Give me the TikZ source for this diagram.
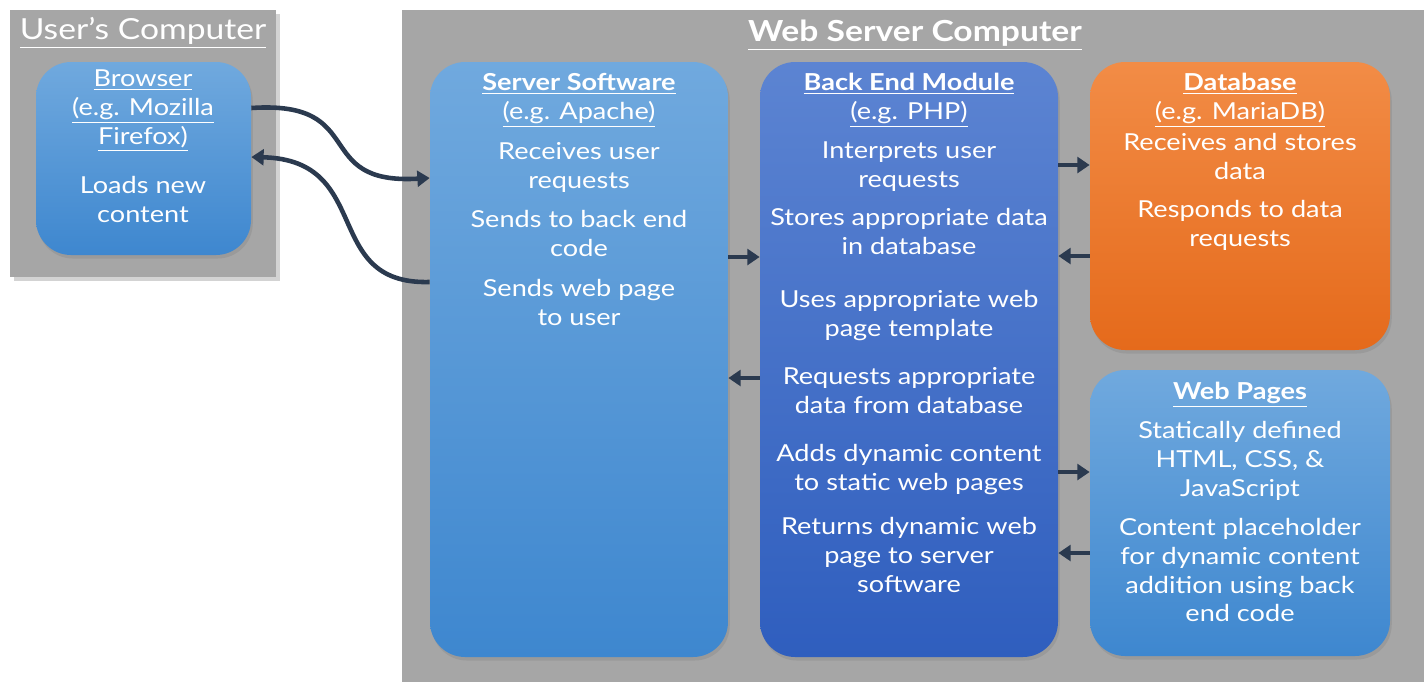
\documentclass[tikz,border=0pt]{standalone}
\usepackage{fontspec}
\setmainfont{Lato}[FakeStretch=1.16]
\usetikzlibrary{arrows.meta,fit,shadows}

\definecolor{boxgray}{HTML}{A6A6A6}
\definecolor{lblue1}{HTML}{70A9DE}
\definecolor{lblue2}{HTML}{3E87CF}
\definecolor{dblue1}{HTML}{5C84D2}
\definecolor{dblue2}{HTML}{2F5EBE}
\definecolor{orng1}{HTML}{F28C46}
\definecolor{orng2}{HTML}{E56A1B}
\definecolor{arrnavy}{HTML}{2B3A4F}

\newcommand{\ul}[1]{\underline{#1}}

\begin{document}
\begin{tikzpicture}[x=0.02cm,y=-0.02cm,
  computer/.style = {fill=boxgray,inner sep=0pt,drop shadow={opacity=0.35,shadow xshift=2pt,shadow yshift=-2pt}},
  part/.style = {rounded corners=20pt,inner sep=0pt,drop shadow={opacity=0.3,shadow xshift=1pt,shadow yshift=-2pt}},
  lightpart/.style = {part,top color=lblue1,bottom color=lblue2},
  darkpart/.style = {part,top color=dblue1,bottom color=dblue2},
  orangepart/.style = {part,top color=orng1,bottom color=orng2},
  txt/.style = {text=white,align=center,anchor=north,font=\fontsize{13.3}{16.4}\selectfont},
  head/.style = {text=white,anchor=center,font=\fontsize{16.5}{20}\selectfont},
  arr/.style = {draw=arrnavy,line width=2.6pt,-{Triangle[length=7pt,width=9pt]}}]
\useasboundingbox (0,0) rectangle (1424,681);

% the two computers
\node[computer,fit={(10,10) (276,277)}] (user) {};
\node[computer,fit={(402,10) (1424,690)}] (web) {};
\node[head] (usertitle) at (143,33) {\ul{User’s Computer}};
\node[head,font=\fontsize{16.5}{20}\selectfont\bfseries] (webtitle) at (915,35) {\ul{Web Server Computer}};

% parts
\node[lightpart,fit={(36,62) (251,255)}] (browser) {};
\node[lightpart,fit={(430,62) (728,657)}] (srv) {};
\node[darkpart,fit={(760,62) (1058,657)}] (bem) {};
\node[orangepart,fit={(1090,62) (1390,350)}] (db) {};
\node[lightpart,fit={(1090,370) (1390,656)}] (pages) {};

% browser
\node[txt] (b1) at (143,64) {\ul{Browser}\\\ul{(e.g. Mozilla}\\\ul{Firefox)}};
\node[txt] (b2) at (143,170) {Loads new\\content};

% server software
\node[txt] (s0) at (579,67) {\ul{\bfseries Server Software}\\\ul{(e.g. Apache)}};
\node[txt] (s1) at (579,136) {Receives user\\requests};
\node[txt] (s2) at (579,204) {Sends to back end\\code};
\node[txt] (s3) at (579,273) {Sends web page\\to user};

% back end module
\node[txt] (m0) at (909,67) {\ul{\bfseries Back End Module}\\\ul{(e.g. PHP)}};
\node[txt] (m1) at (909,136) {Interprets user\\requests};
\node[txt] (m2) at (909,202) {Stores appropriate data\\in database};
\node[txt] (m3) at (909,284) {Uses appropriate web\\page template};
\node[txt] (m4) at (909,361) {Requests appropriate\\data from database};
\node[txt] (m5) at (909,438) {Adds dynamic content\\to static web pages};
\node[txt] (m6) at (909,511) {Returns dynamic web\\page to server\\software};

% database
\node[txt] (d0) at (1240,67) {\ul{\bfseries Database}\\\ul{(e.g. MariaDB)}};
\node[txt] (d1) at (1240,127) {Receives and stores\\data};
\node[txt] (d2) at (1240,194) {Responds to data\\requests};

% web pages
\node[txt] (p0) at (1240,376) {\ul{\bfseries Web Pages}};
\node[txt] (p1) at (1240,415) {Statically defined\\HTML, CSS, \&\\JavaScript};
\node[txt] (p2) at (1240,512) {Content placeholder\\for dynamic content\\addition using back\\end code};

% connectors
\draw[arr] (browser.east |- 0,108) .. controls (370,100) and (310,185) .. (srv.west |- 0,178);
\draw[arr] (srv.west |- 0,282) .. controls (320,285) and (375,160) .. (browser.east |- 0,157);
\draw[arr] (srv.east |- 0,257) -- (bem.west |- 0,257);
\draw[arr] (bem.west |- 0,378) -- (srv.east |- 0,378);
\draw[arr] (bem.east |- 0,165) -- (db.west |- 0,165);
\draw[arr] (db.west |- 0,256) -- (bem.east |- 0,256);
\draw[arr] (bem.east |- 0,472) -- (pages.west |- 0,472);
\draw[arr] (pages.west |- 0,553) -- (bem.east |- 0,553);
\end{tikzpicture}
\end{document}
